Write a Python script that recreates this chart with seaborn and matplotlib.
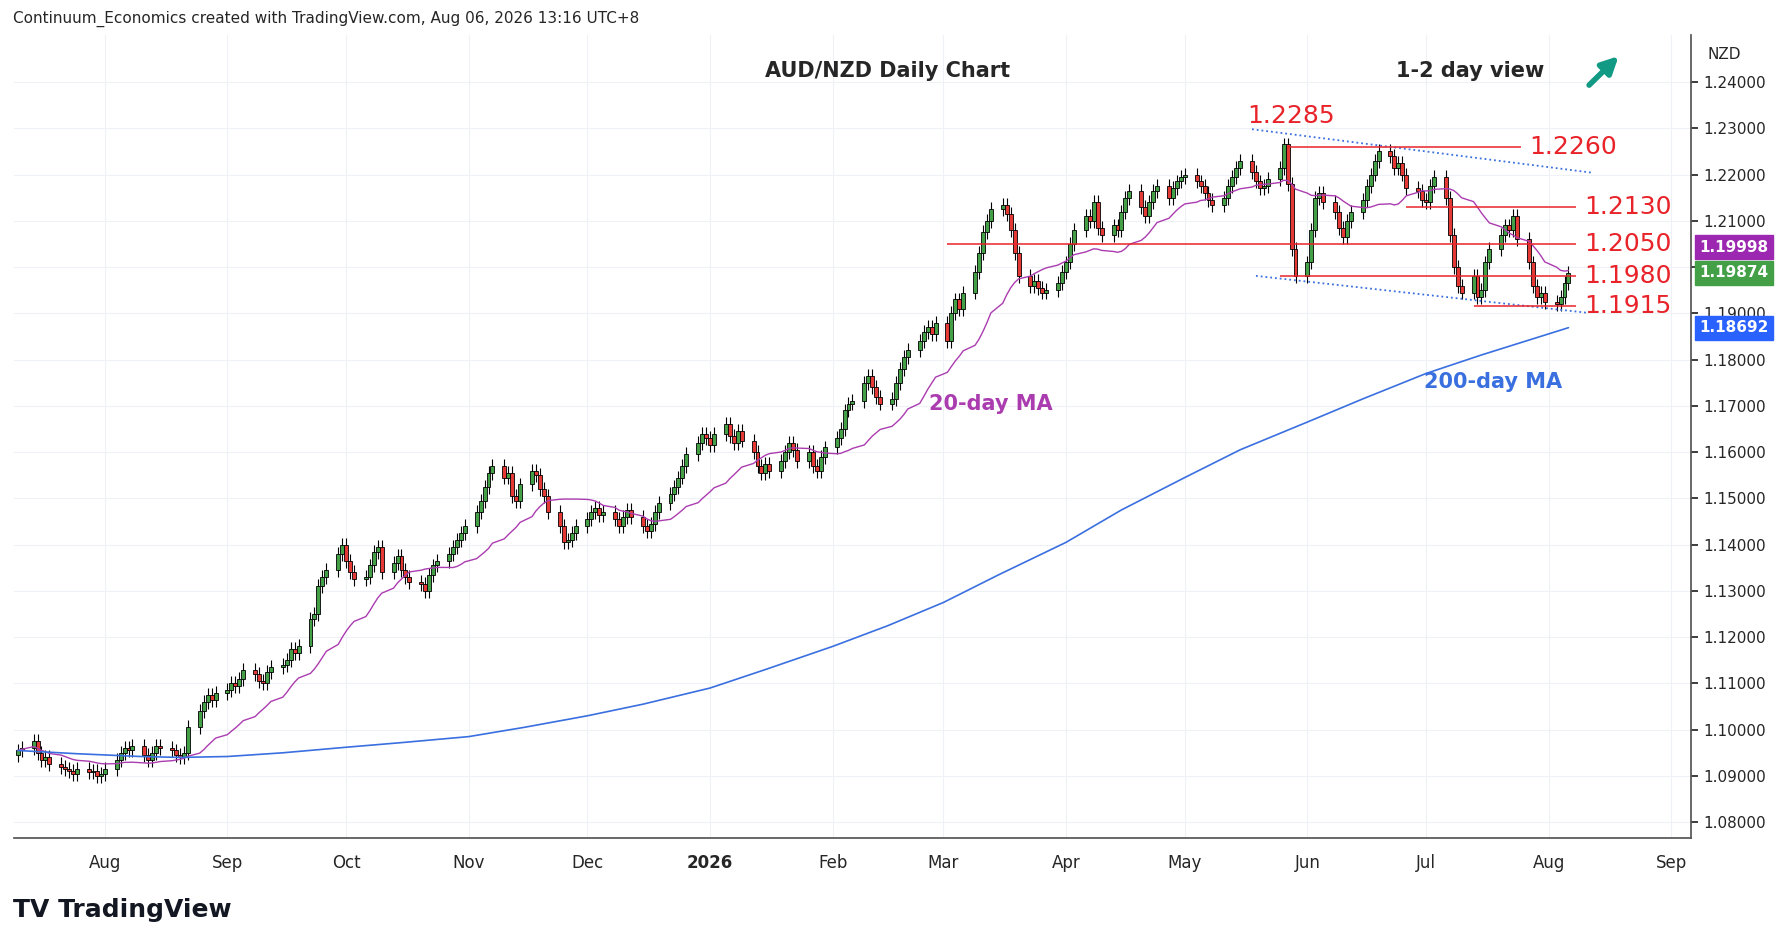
import pandas as pd
import numpy as np
import matplotlib.pyplot as plt
import matplotlib.dates as mdates
import seaborn as sns

sns.set_theme(style="white")
plt.rcParams['font.family'] = ['DejaVu Sans']

# daily closes, month by month
jul25 = [1.0955,1.0960,1.0975,1.0950,1.0935,1.0940,1.0925,1.0920,1.0915,1.0910,1.0905,1.0915,1.0908,1.0910,1.0900,1.0905]
aug25 = [1.0915,1.0935,1.0950,1.0960,1.0955,1.0965,1.0945,1.0935,1.0950,1.0965,1.0960,1.0955,1.0945,1.0940,1.0950,1.1005,1.1040,1.1060,1.1075,1.1065,1.1080]
sep25 = [1.1085,1.1100,1.1095,1.1110,1.1130,1.1120,1.1105,1.1100,1.1125,1.1135,1.1140,1.1150,1.1175,1.1165,1.1180,1.1240,1.1250,1.1310,1.1330,1.1345,1.1380,1.1400]
oct25 = [1.1365,1.1340,1.1325,1.1330,1.1355,1.1385,1.1395,1.1340,1.1360,1.1375,1.1345,1.1330,1.1320,1.1315,1.1300,1.1335,1.1355,1.1365,1.1380,1.1395,1.1410,1.1425,1.1440]
nov25 = [1.1470,1.1495,1.1525,1.1555,1.1570,1.1545,1.1555,1.1505,1.1495,1.1530,1.1560,1.1550,1.1520,1.1505,1.1470,1.1440,1.1405,1.1410,1.1425,1.1440]
dec25 = [1.1455,1.1470,1.1480,1.1465,1.1470,1.1455,1.1440,1.1460,1.1475,1.1460,1.1440,1.1430,1.1445,1.1470,1.1490,1.1510,1.1525,1.1545,1.1570,1.1595,1.1620,1.1640,1.1630]
jan26 = [1.1615,1.1640,1.1660,1.1635,1.1620,1.1645,1.1625,1.1600,1.1570,1.1555,1.1575,1.1560,1.1580,1.1600,1.1620,1.1605,1.1580,1.1600,1.1570,1.1560,1.1590,1.1610]
feb26 = [1.1630,1.1650,1.1690,1.1705,1.1710,1.1750,1.1765,1.1740,1.1720,1.1705,1.1715,1.1750,1.1780,1.1805,1.1820,1.1840,1.1860,1.1870,1.1855,1.1880]
mar26 = [1.1840,1.1900,1.1930,1.1910,1.1945,1.1990,1.2030,1.2075,1.2100,1.2125,1.2135,1.2115,1.2080,1.2030,1.1980,1.1960,1.1970,1.1955,1.1945,1.1950,1.1965,1.1990]
apr26 = [1.2010,1.2050,1.2080,1.2110,1.2100,1.2140,1.2085,1.2070,1.2090,1.2080,1.2120,1.2150,1.2165,1.2130,1.2110,1.2140,1.2165,1.2175,1.2150,1.2170,1.2185,1.2195]
may26 = [1.2200,1.2185,1.2175,1.2160,1.2145,1.2135,1.2150,1.2175,1.2195,1.2215,1.2230,1.2205,1.2185,1.2170,1.2175,1.2190,1.2215,1.2265,1.2180,1.2040,1.1980]
jun26 = [1.2010,1.2080,1.2150,1.2160,1.2140,1.2120,1.2085,1.2065,1.2100,1.2120,1.2145,1.2175,1.2200,1.2230,1.2250,1.2240,1.2215,1.2225,1.2200,1.2170,1.2165,1.2145]
jul26 = [1.2140,1.2175,1.2195,1.2150,1.2070,1.2000,1.1960,1.1945,1.1980,1.1935,1.1950,1.2010,1.2040,1.2070,1.2090,1.2080,1.2110,1.2060,1.2010,1.1960,1.1935,1.1945,1.1925]
aug26 = [1.1920,1.1935,1.1965,1.1987]

# 200-day MA readings
ma200_dates = ['2025-07-10','2025-07-25','2025-08-10','2025-08-20','2025-09-01','2025-09-15','2025-10-01','2025-10-15',
               '2025-11-01','2025-11-15','2025-12-01','2025-12-15','2026-01-01','2026-01-15','2026-02-01','2026-02-15',
               '2026-03-01','2026-03-15','2026-04-01','2026-04-15','2026-05-01','2026-05-15','2026-06-01','2026-06-15',
               '2026-07-01','2026-07-15','2026-08-06']
ma200_vals = [1.0955,1.0948,1.0942,1.0940,1.0942,1.0950,1.0962,1.0972,1.0985,1.1005,1.1030,1.1055,1.1090,1.1130,1.1180,1.1225,
              1.1275,1.1335,1.1405,1.1475,1.1545,1.1605,1.1665,1.1715,1.1770,1.1810,1.1869]

levels = [1.2260, 1.2130, 1.2050, 1.1980, 1.1915]
level_starts = ['2026-05-27', '2026-06-26', '2026-03-02', '2026-05-25', '2026-07-13']
level_ends = ['2026-07-25', '2026-08-08', '2026-08-08', '2026-08-08', '2026-08-08']
label_x = ['2026-07-27', '2026-08-10', '2026-08-10', '2026-08-10', '2026-08-10']

closes = jul25+aug25+sep25+oct25+nov25+dec25+jan26+feb26+mar26+apr26+may26+jun26+jul26+aug26
dates = pd.bdate_range('2025-07-10', periods=len(closes))
df = pd.DataFrame({'date': dates, 'close': closes})
df['open'] = df['close'].shift(1).fillna(df['close'].iloc[0] - 0.001)
df['high'] = df[['open', 'close']].max(axis=1) + 0.0015
df['low'] = df[['open', 'close']].min(axis=1) - 0.0015
df['ma20'] = df['close'].rolling(20, min_periods=1).mean()
ma200 = pd.DataFrame({'date': pd.to_datetime(ma200_dates), 'ma': ma200_vals})

fig = plt.figure(figsize=(17.92, 9.42), dpi=100)
ax = fig.add_axes([0.0077, 0.110, 0.936, 0.853])

ax.grid(True, color='#eef1f6', linewidth=0.8)
x = mdates.date2num(df['date'])
up = df['close'] >= df['open']
ax.vlines(x, df['low'], df['high'], color='black', linewidth=0.8, zorder=2)
ax.bar(x[up], (df['close'] - df['open'])[up], bottom=df['open'][up], width=1.0,
       color='#43a047', edgecolor='black', linewidth=0.6, zorder=3)
ax.bar(x[~up], (df['close'] - df['open'])[~up], bottom=df['open'][~up], width=1.0,
       color='#e53935', edgecolor='black', linewidth=0.6, zorder=3)

sns.lineplot(data=df, x='date', y='ma20', ax=ax, color='#ab3cb0', linewidth=1.0, zorder=4)
sns.lineplot(data=ma200, x='date', y='ma', ax=ax, color='#3a6fe0', linewidth=1.2, zorder=4)

red = '#e8232a'
for lv, st, en, lx in zip(levels, level_starts, level_ends, label_x):
    ax.hlines(lv, pd.Timestamp(st), pd.Timestamp(en), color=red, linewidth=1.1, zorder=5)
    ax.text(pd.Timestamp(lx), lv, f'{lv:.4f}', color=red, fontsize=18, va='center')
ax.text(pd.Timestamp('2026-05-28'), 1.2300, '1.2285', color=red, fontsize=18, ha='center', va='bottom')

# trend channel
ax.plot([pd.Timestamp('2026-05-18'), pd.Timestamp('2026-08-12')], [1.2298, 1.2204], ':', color='#3a6fe0', lw=1.3)
ax.plot([pd.Timestamp('2026-05-19'), pd.Timestamp('2026-08-11')], [1.1981, 1.1901], ':', color='#3a6fe0', lw=1.3)

ax.text(0.521, 0.955, 'AUD/NZD Daily Chart', transform=ax.transAxes, fontsize=15, fontweight='bold', ha='center', va='center')
ax.text(0.868, 0.955, '1-2 day view', transform=ax.transAxes, fontsize=15, fontweight='bold', ha='center', va='center')
ax.annotate('', xy=(0.958, 0.976), xytext=(0.938, 0.935), xycoords='axes fraction',
            arrowprops=dict(arrowstyle='-|>', color='#139a84', lw=4, mutation_scale=25))
ax.text(pd.Timestamp('2026-03-13'), 1.1703, '20-day MA', color='#ab3cb0', fontsize=15, fontweight='bold', ha='center', va='center')
ax.text(pd.Timestamp('2026-07-18'), 1.1752, '200-day MA', color='#3a6fe0', fontsize=15, fontweight='bold', ha='center', va='center')

ax.set_xlim(pd.Timestamp('2025-07-09'), pd.Timestamp('2026-09-06'))
ax.set_ylim(1.0765, 1.2502)
ax.yaxis.tick_right()
yt = np.arange(1.08, 1.2401, 0.01)
ax.set_yticks(yt)
ax.set_yticklabels(['' if abs(v - 1.20) < 1e-6 else f'{v:.5f}' for v in yt], fontsize=11)
months = pd.date_range('2025-08-01', '2026-09-01', freq='MS')
ax.set_xticks(months)
ax.set_xticklabels([m.strftime('%Y') if m.month == 1 else m.strftime('%b') for m in months], fontsize=12)
for lbl in ax.get_xticklabels():
    if lbl.get_text() == '2026':
        lbl.set_fontweight('bold')
ax.tick_params(axis='x', length=5, pad=6)
ax.tick_params(axis='y', length=5)
ax.set_xlabel('')
ax.set_ylabel('')
for s in ['top', 'left']:
    ax.spines[s].set_visible(False)
ax.spines['right'].set_color('#555')
ax.spines['bottom'].set_color('#555')

# last value tags
for val, pos, col in [(1.19998, 1.2043, '#9c27b0'), (1.19874, 1.1988, '#43a047'), (1.18692, 1.1869, '#2962ff')]:
    ax.text(1.005, pos, f'{val:.5f}', transform=ax.get_yaxis_transform(), color='white', fontsize=11,
            fontweight='bold', va='center', ha='left', bbox=dict(boxstyle='square,pad=0.3', fc=col, ec=col))
ax.text(1.01, 0.975, 'NZD', transform=ax.transAxes, fontsize=11, va='center')

fig.text(0.007, 0.98, 'Continuum_Economics created with TradingView.com, Aug 06, 2026 13:16 UTC+8', fontsize=11, va='center')
fig.text(0.007, 0.034, 'TV TradingView', fontsize=18, fontweight='bold', va='center', color='#131722')

fig.savefig('out.png', dpi=100)
